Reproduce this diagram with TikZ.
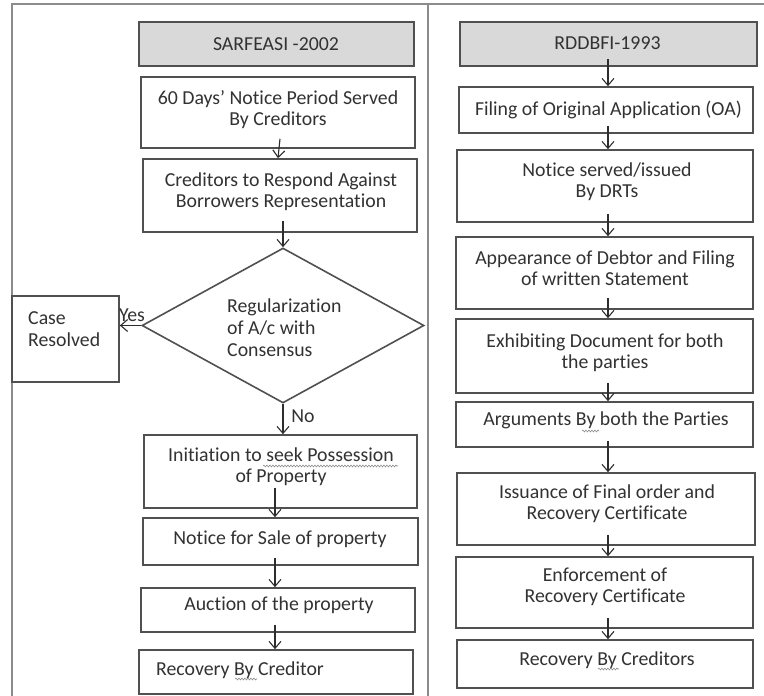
\documentclass[tikz,border=0pt]{standalone}
\usepackage{fontspec}
\setmainfont{Carlito}[Ligatures=NoCommon]
\usetikzlibrary{shapes.geometric,arrows.meta,decorations.pathmorphing}
\definecolor{framegray}{RGB}{140,140,140}
\definecolor{boxgray}{RGB}{80,80,80}
\definecolor{hdrfill}{RGB}{217,217,217}
\definecolor{textgray}{RGB}{50,50,50}
\definecolor{arrowgray}{RGB}{45,45,45}
\definecolor{wavegray}{RGB}{140,140,140}
\begin{document}
\begin{tikzpicture}[x=1pt,y=-1pt,
  every node/.style={font=\fontsize{19.8}{20.8}\selectfont},
  frameline/.style={draw=framegray,line width=1.8pt},
  box/.style={draw=boxgray,line width=1.6pt,inner sep=0pt,fill=white},
  hdr/.style={box,fill=hdrfill},
  txt/.style={text=textgray,align=center,inner sep=0pt},
  squig/.style={draw=wavegray,line width=0.6pt,decorate,decoration={snake,segment length=3pt,amplitude=0.9pt}},
  flow/.style={draw=arrowgray,line width=1.1pt,-{Straight Barb[length=7pt,width=12pt,line width=1.1pt]}}
]
\useasboundingbox (0,0) rectangle (764,696);
% outer frame
\draw[frameline] (12,696) -- (12,4) -- (764,4);
\draw[frameline] (428,4) -- (428,696);
\coordinate (colL) at (275,0);
\coordinate (colR) at (608,0);
% left column
\node[hdr,minimum width=275pt,minimum height=44pt] (hdrL) at (276.5,44) {};
\node[txt] (hdrLt) at (276,44) {SARFEASI -2002};
\node[box,minimum width=274pt,minimum height=71pt] (n1) at (278,112.5) {};
\node[txt] (n1t) at (278,110) {60 Days’ Notice Period Served\\By Creditors};
\node[box,minimum width=274pt,minimum height=73pt] (n2) at (280,195.5) {};
\node[txt] (n2t) at (281,192) {Creditors to Respond Against\\Borrowers Representation};
\node[diamond,draw=boxgray,line width=1.6pt,inner sep=0pt,minimum width=282pt,minimum height=155pt] (dia) at (283,325.5) {};
\node[txt,align=left,anchor=west] (diat) at (227,327.5) {Regularization\\[1.5pt]of A/c with\\[1.5pt]Consensus};
\node[box,minimum width=107pt,minimum height=86pt] (case) at (65.5,339) {};
\node[txt,align=left,anchor=west] (caset) at (28,329) {Case\\[1.5pt]Resolved};
\node[box,minimum width=273pt,minimum height=73pt] (n3) at (280.5,471.5) {};
\node[txt] (n3t) at (281,467) {Initiation to seek Possession\\of Property};
\node[box,minimum width=275pt,minimum height=47pt] (n4) at (280.5,541.5) {};
\node[txt] (n4t) at (280,539) {Notice for Sale of property};
\node[box,minimum width=274pt,minimum height=44pt] (n5) at (278,610) {};
\node[txt] (n5t) at (279,605) {Auction of the property};
\node[box,minimum width=274pt,minimum height=44pt] (n6) at (276,672) {};
\node[txt,anchor=west] (n6t) at (156,670) {Recovery By Creditor};
% spelling squiggles
\draw[squig] (263,466) -- (398,466);
\draw[squig] (235,679) -- (257,679);
% left connectors
\draw[flow] ([xshift=2pt,yshift=10pt]n1.south) -- ([xshift=0pt]n1.south |- n2.north);
\draw[flow] ([xshift=3pt,yshift=12pt]n2.south) -- (dia.north);
\draw[flow] (dia.west) -- (dia.west -| case.east);
\node[txt] (yes) at (132,315) {Yes};
\draw[flow] (dia.south) -- (dia.south |- n3.north);
\node[txt] (no) at (303,416) {No};
\draw[flow] ([yshift=21pt]n3.south -| colL) -- (n4.north -| colL);
\draw[flow] ([yshift=8pt]n4.south -| colL) -- (n5.north -| colL);
\draw[flow] ([yshift=8pt]n5.south -| colL) -- (n6.north -| colL);
% right column
\node[hdr,minimum width=297pt,minimum height=44pt] (hdrR) at (608.5,44) {};
\node[txt] (hdrRt) at (607.5,43) {RDDBFI-1993};
\node[box,minimum width=294pt,minimum height=46pt] (r1) at (606,110) {};
\node[txt] (r1t) at (608.5,110) {Filing of Original Application (OA)};
\node[box,minimum width=296pt,minimum height=72pt] (r2) at (605,186) {};
\node[txt] (r2t) at (607,182) {Notice served/issued\\By DRTs};
\node[box,minimum width=297pt,minimum height=72pt] (r3) at (604.5,273) {};
\node[txt] (r3t) at (605,268) {Appearance of Debtor and Filing\\of written Statement};
\node[box,minimum width=297pt,minimum height=74pt] (r4) at (604.5,356) {};
\node[txt] (r4t) at (605,353) {Exhibiting Document for both\\the parties};
\node[box,minimum width=297pt,minimum height=45pt] (r5) at (604.5,424.5) {};
\node[txt] (r5t) at (606,420) {Arguments By both the Parties};
\node[box,minimum width=298pt,minimum height=72pt] (r6) at (606,509) {};
\node[txt] (r6t) at (607,504) {Issuance of Final order and\\Recovery Certificate};
\node[box,minimum width=297pt,minimum height=71pt] (r7) at (604.5,592.5) {};
\node[txt] (r7t) at (605,587) {Enforcement of\\Recovery Certificate};
\node[box,minimum width=296pt,minimum height=48pt] (r8) at (605,664) {};
\node[txt] (r8t) at (607,660) {Recovery By Creditors};
\draw[squig] (582,431) -- (599,431);
\draw[squig] (598,669) -- (619,669);
% right connectors
\draw[flow] ([yshift=8pt]hdrR.south -| colR) -- (r1.north -| colR);
\draw[flow] ([yshift=8pt]r1.south -| colR) -- (r2.north -| colR);
\draw[flow] ([yshift=9pt]r2.south -| colR) -- (r3.north -| colR);
\draw[flow] ([yshift=12pt]r3.south -| colR) -- (r4.north -| colR);
\draw[flow] ([yshift=11pt]r4.south -| colR) -- (r5.north -| colR);
\draw[flow] ([yshift=7pt]r5.south -| colR) -- (r6.north -| colR);
\draw[flow] ([yshift=11pt]r6.south -| colR) -- (r7.north -| colR);
\draw[flow] ([yshift=11pt]r7.south -| colR) -- (r8.north -| colR);
\end{tikzpicture}
\end{document}
